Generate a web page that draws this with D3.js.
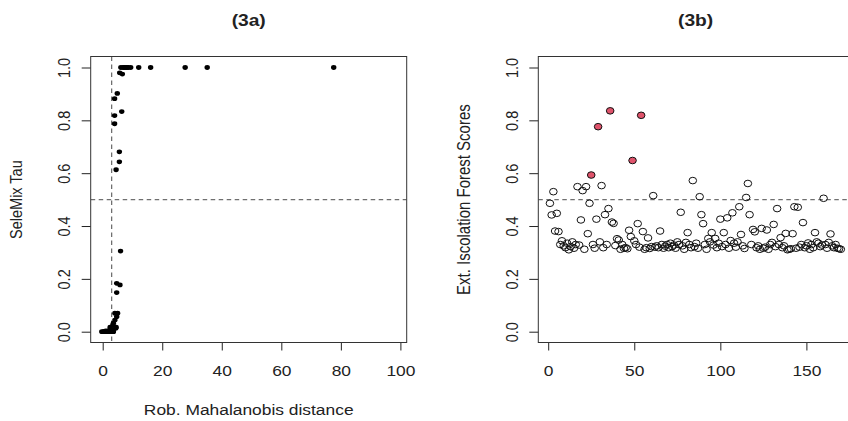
<!DOCTYPE html>
<html><head><meta charset="utf-8">
<script src="https://cdn.jsdelivr.net/npm/d3@7"></script>
<style>
body{margin:0;background:#fff;}
text{font-family:"Liberation Sans",Arial,sans-serif;fill:#222;}
</style></head>
<body><svg id="c" width="848" height="421"></svg>
<script>
// ---- Data ----
const titles = ["(3a)", "(3b)"];
const leftYLabel = "SeleMix Tau";
const rightYLabel = "Ext. Iscolation Forest Scores";
const leftXLabel = "Rob. Mahalanobis distance";
const leftXTicks = [0, 20, 40, 60, 80, 100];
const rightXTicks = [0, 50, 100, 150];
const yTicks = [0, 0.2, 0.4, 0.6, 0.8, 1.0];
const distCutoff = 3.0;
const tauCutoff = 0.5;
const scoreCutoff = 0.5;

// Panel 3a: robust Mahalanobis distance vs SeleMix tau
const mahDist = [6.1,6.9,7.8,8.6,9.4,7.2,8.1,12.1,16.1,27.7,35.1,77.6,5.7,6.6,
  4.9,4.0,6.4,4.0,4.0,5.6,5.6,4.5,6.0,4.7,5.8,4.7,
  4.1,5.0,4.1,3.6,4.4,4.5,3.0,2.5,4.7,3.4,
  -0.3,0.3,0.8,1.2,1.6,2.0,2.3,2.6,2.9,3.2,3.5,3.6,1.0,1.9,2.7,3.3,0.5,1.4,2.2,3.0];
const selemixTau = [1.0,1.0,1.0,1.0,1.0,1.0,1.0,1.0,1.0,1.0,1.0,1.0,0.98,0.975,
  0.902,0.882,0.833,0.818,0.787,0.681,0.643,0.613,0.305,0.183,0.177,0.148,
  0.07,0.07,0.044,0.032,0.013,0.017,0.009,0.017,0.057,0.025,
  0,0,0,0,0,0,0,0,0,0,0,0,0.003,0.002,0.004,0.006,0.001,0.002,0.005,0.004];

// Panel 3b: extended isolation forest scores by unit index
const ifScores = [0.486,0.442,0.530,0.381,0.448,0.379,0.33,0.344,0.325,0.318,
  0.335,0.31,0.322,0.34,0.316,0.33,0.549,0.328,0.423,0.534,
  0.312,0.549,0.371,0.486,0.593,0.33,0.316,0.426,0.776,0.34,
  0.553,0.318,0.443,0.33,0.466,0.836,0.415,0.41,0.326,0.352,
  0.347,0.312,0.33,0.316,0.318,0.314,0.384,0.36,0.648,0.344,
  0.33,0.409,0.32,0.819,0.379,0.312,0.318,0.355,0.315,0.322,
  0.515,0.32,0.325,0.318,0.381,0.33,0.316,0.324,0.33,0.318,
  0.335,0.322,0.328,0.316,0.34,0.33,0.452,0.325,0.312,0.338,
  0.375,0.33,0.318,0.572,0.322,0.335,0.316,0.511,0.443,0.409,
  0.33,0.312,0.353,0.34,0.375,0.328,0.353,0.318,0.335,0.426,
  0.322,0.375,0.33,0.431,0.316,0.345,0.45,0.335,0.32,0.34,
  0.473,0.368,0.325,0.315,0.508,0.561,0.443,0.33,0.387,0.378,
  0.318,0.325,0.312,0.391,0.316,0.32,0.385,0.312,0.33,0.338,
  0.406,0.322,0.466,0.33,0.356,0.318,0.325,0.372,0.31,0.312,
  0.314,0.371,0.473,0.316,0.471,0.32,0.33,0.413,0.318,0.325,
  0.336,0.312,0.33,0.318,0.375,0.34,0.335,0.322,0.328,0.505,
  0.33,0.316,0.338,0.37,0.325,0.318,0.33,0.316,0.314,0.312];
const flagged = [25, 29, 36, 49, 54];

// ---- Drawing ----
const svg = d3.select("#c");
const boxColor = "#333", dashColor = "#6f6f6f", red = "#DF536B";
const sx = 1.2; // horizontal stretch of the original rendering

function panel(opt){
  const g = svg.append("g");
  const x = d3.scaleLinear().domain(opt.xdom).range(opt.xr);
  const y = d3.scaleLinear().domain([0,1]).range([331.7, 67.5]);
  const clipId = "clip" + opt.id;
  svg.append("clipPath").attr("id", clipId).append("rect")
    .attr("x", opt.box[0]).attr("y", 56.5).attr("width", opt.box[1]-opt.box[0]).attr("height", 286);
  // x axis
  const xa = g.append("g").attr("transform","translate(0,342.5)")
    .call(d3.axisBottom(x).tickValues(opt.xticks).tickSize(8).tickPadding(15).tickFormat(d3.format("d")));
  xa.select(".domain").remove();
  xa.selectAll("line").attr("stroke","#222");
  xa.selectAll("text").attr("font-size",14.5).attr("fill","#222").attr("font-family",null)
    .attr("transform","scale("+sx+",1)");
  // y axis
  const ya = g.append("g").attr("transform","translate("+opt.box[0]+",0)")
    .call(d3.axisLeft(y).tickValues(yTicks).tickSize(9).tickFormat(d3.format(".1f")));
  ya.select(".domain").remove();
  ya.selectAll("line").attr("stroke","#222");
  ya.selectAll("text").attr("font-size",14.5).attr("fill","#222").attr("font-family",null)
    .attr("x",null).attr("text-anchor","middle")
    .attr("transform","translate(-27,0) scale("+sx+",1) rotate(-90)").attr("dy","0.36em");
  // reference lines
  const pg = g.append("g").attr("clip-path","url(#"+clipId+")");
  pg.append("line").attr("x1",opt.box[0]).attr("x2",opt.box[1])
    .attr("y1",y(opt.hline)).attr("y2",y(opt.hline))
    .attr("stroke",dashColor).attr("stroke-width",1.3).attr("stroke-dasharray","4.5,3.5");
  if (opt.vline!=null){
    pg.append("line").attr("x1",x(opt.vline)).attr("x2",x(opt.vline))
      .attr("y1",56.5).attr("y2",342.5)
      .attr("stroke",dashColor).attr("stroke-width",1.3).attr("stroke-dasharray","4.5,3.5");
  }
  opt.draw(pg, x, y);
  // box
  g.append("rect").attr("x",opt.box[0]).attr("y",56.5)
    .attr("width",opt.box[1]-opt.box[0]).attr("height",286)
    .attr("fill","none").attr("stroke",boxColor).attr("stroke-width",1);
  // title
  g.append("text").attr("transform","translate("+((opt.box[0]+opt.box[1])/2)+",26) scale("+sx+",1)")
    .attr("text-anchor","middle").attr("font-size",16).attr("font-weight","bold").text(opt.title);
  // y label
  g.append("text").attr("transform","translate("+opt.ylx+",199.6) scale("+sx+",1) rotate(-90)")
    .attr("text-anchor","middle").attr("font-size",opt.ylfs).attr("fill","#333").text(opt.ylabel);
  if (opt.xlabel){
    g.append("text").attr("transform","translate("+((opt.box[0]+opt.box[1])/2)+",415) scale("+sx+",1)")
      .attr("text-anchor","middle").attr("font-size",14.5).attr("fill","#333").text(opt.xlabel);
  }
}

panel({id:"a", xdom:[0,100], xr:[102.7,400.4], box:[90.7,406.7], xticks:leftXTicks,
  hline:tauCutoff, vline:distCutoff, title:titles[0], ylabel:leftYLabel, ylx:22, ylfs:14.5, xlabel:leftXLabel,
  draw:(pg,x,y)=>{
    pg.selectAll("ellipse").data(mahDist.map((d,i)=>[d,selemixTau[i]])).join("ellipse")
      .attr("cx",d=>x(d[0])).attr("cy",d=>y(d[1])).attr("rx",2.7).attr("ry",2.4).attr("fill","#000");
  }});

panel({id:"b", xdom:[0,150], xr:[548.2,806.4], box:[538.3,853], xticks:rightXTicks,
  hline:scoreCutoff, vline:null, title:titles[1], ylabel:rightYLabel, ylx:470, ylfs:15, xlabel:null,
  draw:(pg,x,y)=>{
    const pts = ifScores.map((s,i)=>({i:i+1,s:s,f:flagged.includes(i+1)}));
    pg.selectAll("ellipse").data(pts).join("ellipse")
      .attr("cx",d=>x(d.i)).attr("cy",d=>y(d.s)).attr("rx",3.8).attr("ry",3.3)
      .attr("fill",d=>d.f?red:"none").attr("stroke","#111").attr("stroke-width",1);
  }});
</script></body></html>
